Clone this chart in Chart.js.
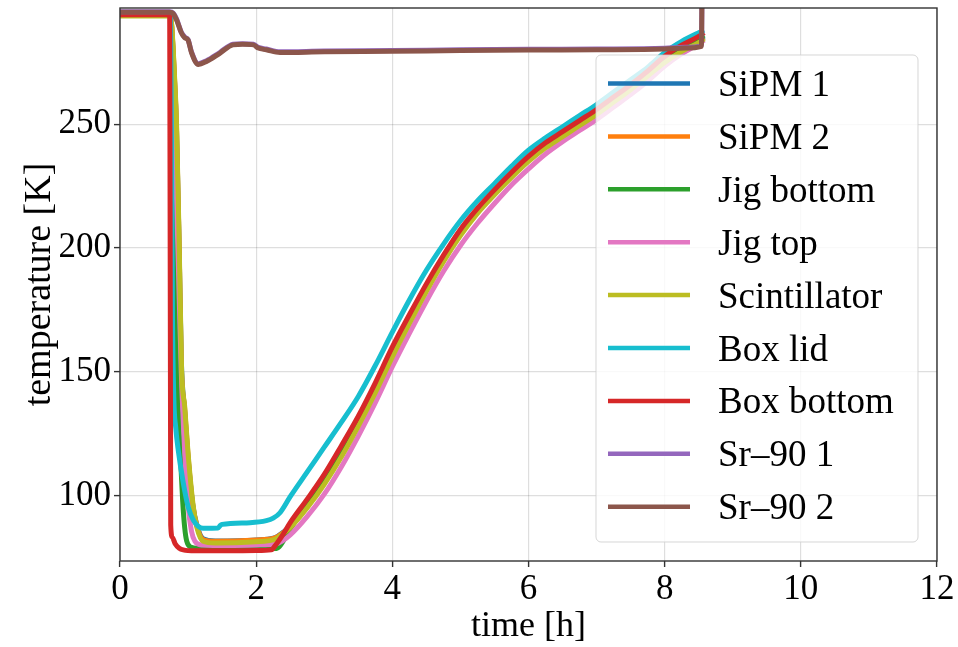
<!DOCTYPE html>
<html><head><meta charset="utf-8">
<script src="https://cdn.jsdelivr.net/npm/chart.js@4/dist/chart.umd.min.js"></script>
<style>html,body{margin:0;padding:0;background:#fff}#wrap{width:958px;height:647px}</style>
</head><body><div id="wrap"><canvas id="c" width="958" height="647"></canvas></div>
<script>
// ---------- data ----------
const seriesLabels = ['SiPM 1','SiPM 2','Jig bottom','Jig top','Scintillator','Box lid','Box bottom','Sr\u201390 1','Sr\u201390 2'];
const seriesColors = ['#1f77b4','#ff7f0e','#2ca02c','#e377c2','#bcbd22','#17becf','#d62728','#9467bd','#8c564b'];
const xTicks = [0,2,4,6,8,10,12];
const yTicks = [100,150,200,250];

const riseT = [2.5,2.75,3.0,3.25,3.5,3.75,4.0,4.25,4.5,4.75,5.0,5.25,5.5,5.75,6.0,6.25,6.5,6.75,7.0,7.25,7.5,7.75,8.0,8.25,8.5,8.58];

const tSiPM1 = [0,0.74,0.76,0.8,0.83,0.87,0.9,0.95,1.0,1.07,1.13,1.22,1.4,2.0,2.25,2.32].concat(riseT);
const kSiPM1 = [294,294,289,268,248,198,155,134,115,96,88,82.5,81.6,82,82.7,83.6,
  87.5,95.8,105.3,116.5,129,142.5,157,170.5,183.3,195.3,205.8,214.8,222.3,229.3,235.8,241.3,245.8,250.3,254.8,259.8,264.8,270.3,275.8,280.3,283.8,285.3];

const tSiPM2 = [0,0.74,0.76,0.8,0.83,0.87,0.9,0.95,1.0,1.07,1.13,1.22,1.4,2.0,2.25,2.32].concat(riseT);
const kSiPM2 = [294,294,289.5,269,249,199,153,135,116,95.8,87.6,82.2,81.5,82,82.6,83.4,
  87.3,95.5,105,116,128.5,142,156.5,170,182.9,194.9,205.4,214.4,221.9,228.9,235.4,240.9,245.4,249.9,254.4,259.4,264.4,269.9,275.4,279.9,283.4,284.9];

const tJigBottom = [0,0.74,0.76,0.78,0.8,0.845,0.88,0.92,0.95,0.98,1.05,1.2,2.0,2.3,2.36].concat(riseT);
const kJigBottom = [294,294,270,225,200,145,120,98,87,81.5,79,78.5,78.5,78.6,80,
  86.5,96.5,106.5,118,130.5,144,158.5,171.5,184,195.5,206,215,222.5,229.5,236,241.5,246,250.5,255,260,265,270.5,276.5,281,284.5,286];

const tJigTop = [0,0.745,0.77,0.8,0.86,0.9,0.95,1.0,1.05,1.1,1.2,1.6,2.0,2.3,2.38].concat(riseT);
const kJigTop = [294,294,280,250,190,150,118,96,85.5,81.5,80,79.8,80,80.5,81.5,
  84,91.5,100.5,111.5,124,137.5,152,165.5,178.5,190.5,201,210,218,225.5,232,238,243,247.5,252,257,262,267.5,273.5,278.5,282.5,284];

const tScint = [0,0.74,0.76,0.8,0.83,0.87,0.905,0.95,1.0,1.077,1.13,1.22,1.4,2.0,2.25,2.32].concat(riseT);
const kScint = [293.8,293.8,290,270,250.6,200.6,150.7,136,117,95.4,87,81.5,80.8,81.3,82,83,
  87,95,104.5,115.5,128,141.5,156,169.5,182.5,194.5,205,214,221.5,228.5,235,240.5,245,249.5,254,259,264,269.5,275,279.5,283,284.5];

const tBoxLid = [0,0.72,0.74,0.755,0.77,0.79,0.82,0.857,0.93,1.0,1.077,1.15,1.22,1.44,1.47,1.5,1.91,2.15,2.25,2.35].concat(riseT);
const kBoxLid = [294.5,294.5,294,250,175,140,127,118,105,95.5,90,87.5,86.7,86.8,87.8,88.3,89,89.8,90.8,93,
  99.5,109.5,119.5,129.5,140,152.5,166,179,191,201.5,211,219,226,233,239.5,244.5,249,253.5,258,263,268,273,279,283.5,287,288];

const tBoxBottom = [0,0.73,0.745,0.77,0.81,0.87,0.93,1.1,1.5,2.0,2.22,2.3,2.4].concat(riseT);
const kBoxBottom = [294.3,294.3,88,83,80.5,78.7,78,77.6,77.6,77.7,78,80.5,84.5,
  89,98.5,108.5,120,132,145.5,160,173,185.5,197,207.5,216,223.5,230.5,237,242.5,247,251.5,256,261,266,271.5,277.5,282,285.5,287];

const tSr1 = [0,0.73,0.78,0.83,0.9,0.95,1.0,1.05,1.15,1.27,1.47,1.66,1.8,1.96,2.03,2.15,2.35,3.0,4.0,5.0,6.0,7.0,8.0,8.3,8.54,8.55];
const kSr1 = [295.5,295.5,295,292.6,287.3,285.3,284.2,279.3,274.5,275.7,279.1,282.4,282.6,282.4,281.1,280.4,279.3,279.6,279.8,280.1,280.3,280.4,280.7,281.1,281.8,310];

const tSr2 = [0,0.73,0.78,0.83,0.9,0.95,1.0,1.05,1.15,1.27,1.47,1.66,1.8,1.96,2.03,2.15,2.35,3.0,4.0,5.0,6.0,7.0,8.0,8.3,8.54,8.55];
const kSr2 = [295.3,295.3,294.8,292.3,287,285,284,279,274.2,275.4,278.8,282.1,282.3,282.1,280.8,280.1,279,279.3,279.5,279.8,280,280.1,280.4,280.8,281.5,310];

const seriesT = [tSiPM1,tSiPM2,tJigBottom,tJigTop,tScint,tBoxLid,tBoxBottom,tSr1,tSr2];
const seriesK = [kSiPM1,kSiPM2,kJigBottom,kJigTop,kScint,kBoxLid,kBoxBottom,kSr1,kSr2];

// ---------- chart ----------
const FONT = "'Liberation Serif', 'Times New Roman', serif";
const datasets = seriesLabels.map((lab,i)=>({
  label: lab,
  data: seriesT[i].map((x,j)=>({x:x,y:seriesK[i][j]})),
  borderColor: seriesColors[i],
  backgroundColor: seriesColors[i],
  borderWidth: 5,
  pointRadius: 0,
  fill: false,
  cubicInterpolationMode: 'monotone',
  clip: 0,
  order: seriesLabels.length - 1 - i
}));

const boxLegend = {
  id: 'boxLegend',
  afterDatasetsDraw(chart){
    const ctx = chart.ctx, ca = chart.chartArea;
    ctx.save();
    const bx=596, by=55, bw=322, bh=487, r=5;
    ctx.beginPath();
    ctx.moveTo(bx+r,by); ctx.lineTo(bx+bw-r,by); ctx.arcTo(bx+bw,by,bx+bw,by+r,r);
    ctx.lineTo(bx+bw,by+bh-r); ctx.arcTo(bx+bw,by+bh,bx+bw-r,by+bh,r);
    ctx.lineTo(bx+r,by+bh); ctx.arcTo(bx,by+bh,bx,by+bh-r,r);
    ctx.lineTo(bx,by+r); ctx.arcTo(bx,by,bx+r,by,r); ctx.closePath();
    ctx.fillStyle='rgba(255,255,255,0.8)'; ctx.fill();
    ctx.strokeStyle='rgba(204,204,204,0.8)'; ctx.lineWidth=1; ctx.stroke();
    ctx.font = '37px ' + FONT;
    ctx.textBaseline='alphabetic'; ctx.textAlign='left';
    seriesLabels.forEach((lab,i)=>{
      const y = 83.5 + i*52.9;
      ctx.beginPath(); ctx.moveTo(608,y); ctx.lineTo(690,y);
      ctx.strokeStyle=seriesColors[i]; ctx.lineWidth=4.5; ctx.lineCap='butt'; ctx.stroke();
      ctx.fillStyle='#000'; ctx.fillText(lab, 718, y+12.5);
    });
    ctx.strokeStyle='#333'; ctx.lineWidth=1.4;
    ctx.strokeRect(ca.left, ca.top, ca.right-ca.left, ca.bottom-ca.top);
    ctx.restore();
  }
};

const gridCommon = {color:'rgba(0,0,0,0.13)', lineWidth:1.2, tickLength:6, tickColor:'#333', tickWidth:1.4};

new Chart(document.getElementById('c'), {
  type: 'line',
  data: {datasets},
  options: {
    responsive: false, animation: false, devicePixelRatio: 1,
    layout: {padding: {top: 8, right: 21, bottom: 0, left: 0}},
    plugins: {legend: {display:false}, tooltip: {enabled:false}},
    scales: {
      x: {
        type: 'linear', min: 0, max: 12,
        afterBuildTicks: s => { s.ticks = xTicks.map(v=>({value:v})); },
        afterFit: s => { s.height = 86; s.paddingLeft = 0; s.paddingRight = 0; },
        ticks: {font:{family:FONT,size:35}, color:'#000', padding:2, maxRotation:0, autoSkip:false},
        grid: gridCommon,
        border: {display:false},
        title: {display:true, text:'time [h]', font:{family:FONT,size:36}, color:'#000', padding:{top:0,bottom:-1}}
      },
      y: {
        type: 'linear', min: 73.5, max: 297,
        afterBuildTicks: s => { s.ticks = yTicks.map(v=>({value:v})); },
        afterFit: s => { s.width = 120; s.paddingTop = 0; s.paddingBottom = 0; },
        ticks: {font:{family:FONT,size:35}, color:'#000', padding:3, autoSkip:false},
        grid: gridCommon,
        border: {display:false},
        title: {display:true, text:'temperature [K]', font:{family:FONT,size:38}, color:'#000', padding:{top:17,bottom:0}}
      }
    }
  },
  plugins: [boxLegend]
});
</script>
</body></html>
